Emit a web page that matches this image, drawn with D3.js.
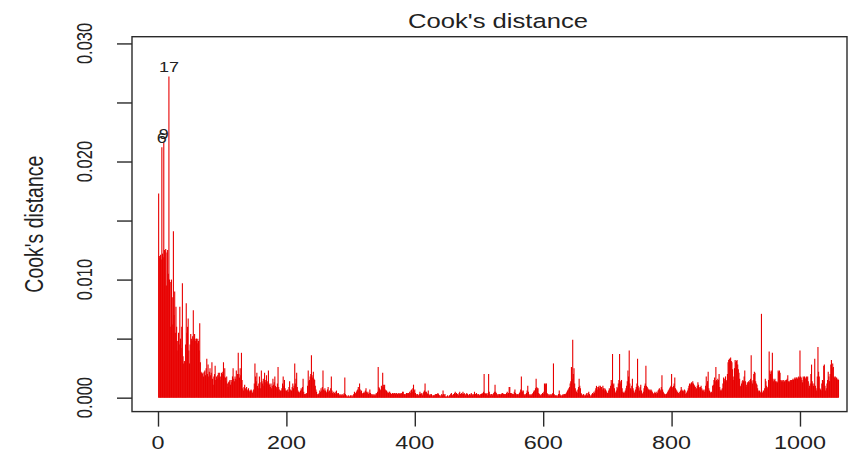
<!DOCTYPE html>
<html>
<head>
<meta charset="utf-8">
<script src="https://cdn.jsdelivr.net/npm/d3@7"></script>
<style>
  body { margin: 0; background: #fff; }
  svg { display: block; }
</style>
</head>
<body>
<div id="chart"></div>
<script>
const cookA = [ // obs 1-160
  173,120,118,121,117,212,122,119,216,125, 124,126,95,123,125,105,272,100,98,60,
  100,62,85,141,70,90,55,77,60,48, 40,55,45,77,50,42,60,97,35,29,
  31,30,45,80,55,60,67,40,29,45, 54,50,48,52,74,50,54,48,50,50,
  46,50,48,40,63,30,22,21,20,21, 18,22,23,19,25,33,20,28,18,22,
  25,19,21,30,16,11,18,20,27,15, 18,16,19,21,17,21,18,15,21,20,
  22,30,18,25,17,14,18,12,9,13, 14,15,11,15,13,18,25,16,14,18,
  16,23,15,20,38,20,17,25,19,38, 15,8,6,9,11,8,7,9,6,7,
  8,6,5,6,7,6,4,5,7,12, 29,18,14,21,10,8,12,18,13,8];
const cookB = [ // obs 161-350
  23,14,12,16,10,21,13,15,19,12, 14,23,12,11,9,12,8,10,16,11,
  13,18,10,8,9,12,26,9,7,5, 6,6,8,12,18,10,15,8,6,6,
  5,7,5,9,14,7,6,6,9,12, 8,10,29,12,16,21,9,6,5,4,
  5,6,8,7,9,16,5,3,2,3, 4,3,10,23,14,15,18,20,36,19,
  17,22,16,15,10,7,5,3,2,3, 4,6,5,8,6,9,23,7,6,8,
  6,5,4,7,9,5,6,4,8,18, 6,4,5,3,4,5,3,6,4,3,
  4,3,2,2,3,2,2,3,2,4, 17,3,1,2,1,1,2,1,1,2,
  1,2,1,2,3,5,3,4,5,6, 7,9,6,12,7,5,6,4,3,4,
  5,4,6,8,5,4,5,3,4,7, 4,2,3,2,3,2,2,3,2,4,
  3,5,26,9,8,6,7,10,9,21];
const cookC = [ // obs 351-550
  11,9,11,7,6,6,5,4,4,5, 5,4,3,3,4,4,3,4,4,3,
  4,4,3,3,4,3,4,3,4,3, 5,5,3,3,2,3,4,3,4,4,
  3,5,4,6,7,5,8,11,6,7, 4,3,2,3,2,2,3,5,3,4,
  3,2,4,5,6,12,5,5,4,3, 6,3,2,2,3,3,2,1,2,2,
  2,3,2,3,3,4,3,2,2,1, 2,3,2,6,3,2,3,1,1,1,
  2,1,1,2,2,3,4,2,2,3, 3,4,5,3,4,3,3,2,4,5,
  3,3,4,3,5,3,4,3,2,3, 4,3,2,2,3,3,2,4,3,2,
  3,2,5,3,3,4,3,2,3,2, 2,3,2,3,4,3,5,20,4,3,
  4,3,2,4,20,5,3,2,3,3, 2,3,4,5,11,5,4,3,2,3,
  2,3,3,2,3,4,4,3,2,3, 3,2,4,5,3,4,9,9,4,3];
const cookD = [ // obs 551-750
  4,3,2,3,5,7,4,3,2,3, 2,3,4,5,7,18,6,5,6,3,
  2,3,2,4,6,10,5,3,2,2, 3,2,3,4,5,6,6,8,16,9,
  8,8,4,3,2,2,3,2,4,3, 5,12,11,12,12,4,3,2,3,2,
  2,3,2,3,4,29,3,2,2,1, 2,1,2,3,6,3,2,1,2,2,
  3,2,3,2,3,4,5,6,7,8, 9,12,14,26,16,49,20,25,12,8,
  6,5,4,7,9,16,10,8,4,3, 2,2,3,2,1,2,3,4,2,4,
  5,3,2,1,2,3,4,3,5,4, 6,8,10,9,7,9,10,8,10,9,
  9,7,10,8,6,8,7,6,5,4, 4,6,8,7,10,15,12,37,11,12,
  8,5,4,6,9,8,12,15,37,14, 12,15,8,5,4,5,4,6,8,10,
  14,23,18,40,12,8,7,10,16,8, 6,4,5,7,9,12,33,10,8,6];
const cookE = [ // obs 751-950
  9,11,6,4,3,5,8,10,12,27, 10,9,8,7,6,7,6,7,6,5,
  4,3,4,5,4,3,5,4,6,7, 8,7,6,9,19,7,5,4,3,3,
  2,3,4,5,6,7,8,9,10,20, 9,8,10,12,17,8,7,6,5,4,
  4,5,3,6,9,7,6,5,6,7, 6,3,4,5,6,8,10,12,11,12,
  13,12,14,12,11,10,9,7,8,10, 13,11,9,8,9,10,8,6,7,6,
  5,7,10,18,12,14,22,8,6,5, 4,5,4,10,11,15,17,14,26,15,
  14,16,15,20,9,6,7,6,8,12, 17,16,14,18,15,14,20,30,32,33,
  33,34,31,30,24,15,18,25,32,30, 31,32,28,24,21,16,10,9,12,14,
  15,14,18,23,14,9,11,13,12,14, 13,15,16,36,14,12,15,20,22,21,
  14,12,11,8,6,5,6,4,5,71, 5,4,6,5,8,16,14,10,8,9];
const cookF = [ // obs 951-1060
  15,39,23,20,22,23,38,16,14,15, 16,14,13,14,13,23,22,23,21,15,
  14,15,14,15,13,14,15,14,15,16, 19,14,13,14,15,14,15,15,16,15,
  16,17,16,17,17,16,17,18,17,40, 18,17,15,13,18,17,18,17,16,18,
  17,18,14,8,10,12,20,28,14,12, 10,12,33,10,8,6,18,43,22,18,
  8,7,6,12,15,14,27,28,10,6, 8,12,15,22,18,14,20,28,32,25,
  29,26,18,17,18,16,17,15,16,15];
const cookUnit = 1e-4;

const obsTicks = [0, 200, 400, 600, 800, 1000];
const cookTicks = [0, 0.005, 0.010, 0.015, 0.020, 0.025, 0.030];
const cookTickLabels = ["0.000", "", "0.010", "", "0.020", "", "0.030"];
const chartTitle = "Cook's distance";
const yTitle = "Cook's distance";
const idN = 3; // how many of the largest points get their number

const width = 857, height = 461;
const boxLeft = 132, boxRight = 847, boxTop = 36.7, boxBottom = 411.6;
const tickLen = 15;
const axisColor = "#2a2a2a";
const textColor = "#222";
const spikeColor = "#e80000";
const fontFamily = "'Liberation Sans', Arial, sans-serif";

const cooks = [].concat(cookA, cookB, cookC, cookD, cookE, cookF)
  .map(function (v, i) { return { obs: i + 1, d: v * cookUnit }; });

const svg = d3.select("#chart").append("svg")
  .attr("width", width)
  .attr("height", height);

const x = d3.scaleLinear().domain([-40.5, 1072]).range([boxLeft, 846.2]);
const y = d3.scaleLinear().domain([-0.00118, 0.03057]).range([boxBottom, boxTop]);

// spikes (type = "h")
svg.append("g")
  .selectAll("line")
  .data(cooks)
  .enter()
  .append("line")
  .attr("x1", function (d) { return x(d.obs); })
  .attr("x2", function (d) { return x(d.obs); })
  .attr("y1", y(0))
  .attr("y2", function (d) { return y(d.d); })
  .style("stroke", spikeColor)
  .style("stroke-width", 1.1);

// box
svg.append("rect")
  .attr("x", boxLeft)
  .attr("y", boxTop)
  .attr("width", boxRight - boxLeft)
  .attr("height", boxBottom - boxTop)
  .attr("fill", "none")
  .attr("stroke", axisColor)
  .attr("stroke-width", 1.4);

// x axis
const xAxis = d3.axisBottom(x).tickValues(obsTicks).tickSize(tickLen).tickFormat("");
const gx = svg.append("g").attr("transform", "translate(0," + boxBottom + ")").call(xAxis);
gx.select(".domain").remove();
gx.selectAll(".tick line").attr("stroke", axisColor).attr("stroke-width", 1.4);

svg.append("g").selectAll("text")
  .data(obsTicks)
  .enter()
  .append("text")
  .attr("transform", function (d) { return "translate(" + x(d) + ",449) scale(1.3,1)"; })
  .attr("text-anchor", "middle")
  .style("font-family", fontFamily)
  .style("font-size", "18px")
  .attr("fill", textColor)
  .text(function (d) { return d; });

// y axis
const yAxis = d3.axisLeft(y).tickValues(cookTicks).tickSize(tickLen).tickFormat("");
const gy = svg.append("g").attr("transform", "translate(" + boxLeft + ",0)").call(yAxis);
gy.select(".domain").remove();
gy.selectAll(".tick line").attr("stroke", axisColor).attr("stroke-width", 1.4);

svg.append("g").selectAll("text")
  .data(cookTicks)
  .enter()
  .append("text")
  .attr("transform", function (d) { return "translate(92," + y(d) + ") scale(1.3,1) rotate(-90)"; })
  .attr("text-anchor", "middle")
  .style("font-family", fontFamily)
  .style("font-size", "16.5px")
  .attr("fill", textColor)
  .text(function (d, i) { return cookTickLabels[i]; });

// titles
svg.append("text")
  .attr("transform", "translate(498,28) scale(1.25,1)")
  .attr("text-anchor", "middle")
  .style("font-family", fontFamily)
  .style("font-size", "20.5px")
  .attr("fill", textColor)
  .text(chartTitle);

svg.append("text")
  .attr("transform", "translate(43," + (boxTop + boxBottom) / 2 + ") scale(1.3,1) rotate(-90)")
  .attr("text-anchor", "middle")
  .style("font-family", fontFamily)
  .style("font-size", "19.5px")
  .attr("fill", textColor)
  .text(yTitle);

// ids of the largest distances, placed just above the point (they overlap in the original too)
const topCooks = cooks.slice().sort(function (a, b) { return b.d - a.d; }).slice(0, idN);
svg.append("g").selectAll("text")
  .data(topCooks)
  .enter()
  .append("text")
  .attr("transform", function (d) { return "translate(" + x(d.obs) + "," + (y(d.d) - 4) + ") scale(1.2,1)"; })
  .attr("text-anchor", "middle")
  .style("font-family", fontFamily)
  .style("font-size", "15px")
  .attr("fill", textColor)
  .text(function (d) { return d.obs; });
</script>
</body>
</html>
